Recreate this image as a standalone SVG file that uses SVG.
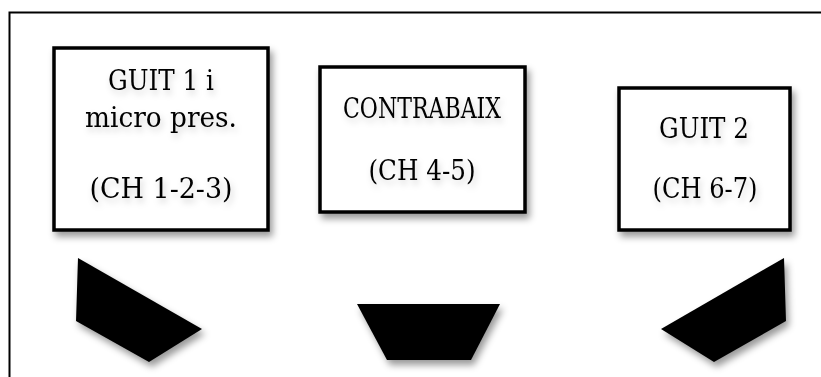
<svg xmlns="http://www.w3.org/2000/svg" width="821" height="377" viewBox="0 0 821 377">
<defs>
<filter id="sh" x="-20%" y="-20%" width="150%" height="150%">
<feDropShadow dx="3" dy="5" stdDeviation="3.5" flood-color="#000" flood-opacity="0.4"/>
</filter>
<filter id="tsh" x="-10%" y="-30%" width="120%" height="170%">
<feDropShadow dx="2" dy="4" stdDeviation="3" flood-color="#000" flood-opacity="0.18"/>
</filter>
<style>
.box{fill:#fff;stroke:#000;stroke-width:3.5;filter:url(#sh)}
.spk{fill:#000;filter:url(#sh)}
.t{font-family:"DejaVu Serif","Liberation Serif",serif;font-size:27px;fill:#000;text-anchor:middle;filter:url(#tsh)}
</style>
</defs>
<rect width="821" height="377" fill="#fff"/>
<path d="M9.5,377 V12.5 H821" fill="none" stroke="#000" stroke-width="2"/>
<g id="guit1">
<rect class="box" x="54" y="48" width="214" height="182"/>
<text class="t" x="161" y="90" textLength="106" lengthAdjust="spacingAndGlyphs">GUIT 1 i</text>
<text class="t" x="161" y="127" textLength="152" lengthAdjust="spacingAndGlyphs">micro pres.</text>
<text class="t" x="161" y="198" textLength="143" lengthAdjust="spacingAndGlyphs">(CH 1-2-3)</text>
</g>
<g id="contrabaix">
<rect class="box" x="320" y="67" width="205" height="145"/>
<text class="t" x="422" y="118" textLength="158" lengthAdjust="spacingAndGlyphs">CONTRABAIX</text>
<text class="t" x="422" y="180" textLength="107" lengthAdjust="spacingAndGlyphs">(CH 4-5)</text>
</g>
<g id="guit2">
<rect class="box" x="619" y="88" width="171" height="142"/>
<text class="t" x="704" y="138" textLength="90" lengthAdjust="spacingAndGlyphs">GUIT 2</text>
<text class="t" x="705" y="198" textLength="105" lengthAdjust="spacingAndGlyphs">(CH 6-7)</text>
</g>
<g id="speaker-left">
<polygon class="spk" points="78,258 202,329 149,362 76,321"/>
</g>
<g id="speaker-center">
<polygon class="spk" points="357,304 500,304 471,360 387,360"/>
</g>
<g id="speaker-right">
<polygon class="spk" points="784,258 786,321 714,362 661,329"/>
</g>
<g id="connectors"></g>
</svg>
